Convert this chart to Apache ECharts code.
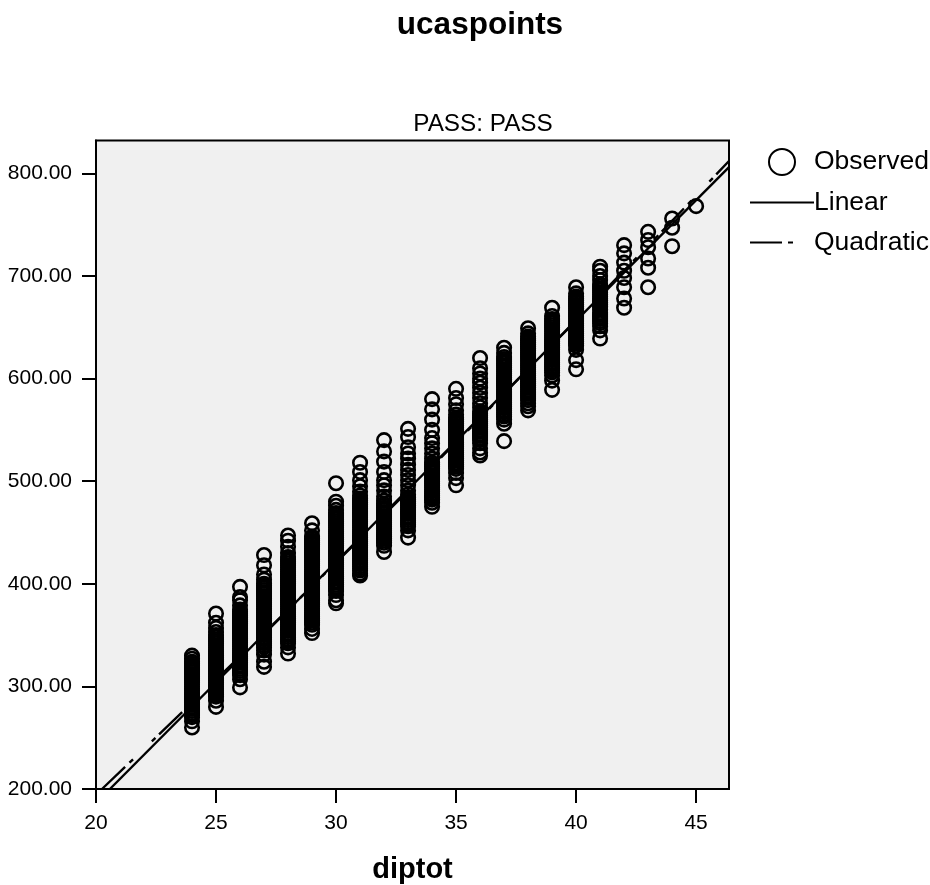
<!DOCTYPE html>
<html><head><meta charset="utf-8">
<style>html,body{margin:0;padding:0;background:#fff}#c{width:930px;height:885px}</style>
<script src="https://cdn.jsdelivr.net/npm/echarts@6/dist/echarts.min.js"></script>
</head><body><div id="c"></div>
<script>
const chartTitle = 'ucaspoints';
const panelTitle = 'PASS: PASS';
const xAxisName = 'diptot';
const xTicks = [20, 25, 30, 35, 40, 45];
const yTicks = [200, 300, 400, 500, 600, 700, 800];

const col24 = [260,266,270,272,274,276,278,280,282,284,286,288,290,292,294,296,298,300,302,304,306,308,310,312,314,316,318,320,322,324,327,330];
const col25 = [280,286,290,292,294,296,298,300,302,304,306,308,310,312,314,316,318,320,322,324,326,328,330,332,334,336,338,340,342,344,346,348,350,353,357,362,371];
const col26 = [299,307,311,313,315,317,319,321,323,325,327,329,331,333,335,337,339,341,343,345,347,349,351,353,355,357,359,361,363,365,367,369,371,373,375,379,384,387,397];
const col27 = [319,324,331,335,338,340,342,344,346,348,350,352,354,356,358,360,362,364,366,368,370,372,374,376,378,380,382,384,386,388,390,392,394,396,398,400,404,409,418,428];
const col28 = [332,338,342,344,346,348,350,352,354,356,358,360,362,364,366,368,370,372,374,376,378,380,382,384,386,388,390,392,394,396,398,400,402,404,406,408,410,412,414,416,418,420,422,424,426,430,436,442,447];
const col29 = [352,356,360,362,364,366,368,370,372,374,376,378,380,382,384,386,388,390,392,394,396,398,400,402,404,406,408,410,412,414,416,418,420,422,424,426,428,430,432,434,436,438,440,442,444,446,452,459];
const col30 = [381,384,389,393,395,397,399,401,403,405,407,409,411,413,415,417,419,421,423,425,427,429,431,433,435,437,439,441,443,445,447,449,451,453,455,457,459,461,463,465,467,469,472,476,480,498];
const col31 = [408,410,413,415,417,419,421,423,425,427,429,431,433,435,437,439,441,443,445,447,449,451,453,455,457,459,461,463,465,467,469,471,473,475,477,479,481,483,486,490,495,501,509,518];
const col32 = [431,437,440,442,444,446,448,450,452,454,456,458,460,462,464,466,468,470,472,474,476,478,481,485,491,496,501,509,519,529,540];
const col33 = [445,452,456,458,460,462,464,466,468,470,472,474,476,478,480,482,484,487,491,496,501,506,511,516,522,527,533,543,551];
const col34 = [475,479,482,484,486,488,490,492,494,496,498,500,502,504,506,508,510,512,514,516,518,522,527,532,537,542,550,560,570,580];
const col35 = [496,503,508,512,514,516,518,520,522,524,526,528,530,532,534,536,538,540,542,544,546,548,550,552,554,556,558,560,562,565,569,575,581,590];
const col36 = [525,528,532,537,540,542,544,546,548,550,552,554,556,558,560,562,564,566,568,572,576,581,586,591,596,600,605,610,620];
const col37 = [539,556,560,563,565,567,569,571,573,575,577,579,581,583,585,587,589,591,593,595,597,599,601,603,605,607,609,611,613,615,617,619,621,625,630];
const col38 = [569,573,576,579,581,583,585,587,589,591,593,595,597,599,601,603,605,607,609,611,613,615,617,619,621,623,625,627,629,631,633,635,637,639,641,644,649];
const col39 = [589,598,603,606,608,610,612,614,616,618,620,622,624,626,628,630,632,634,636,638,640,642,644,646,648,650,652,654,656,658,661,669];
const col40 = [609,618,628,632,634,636,638,640,642,644,646,648,650,652,654,656,658,660,662,664,666,668,670,672,674,676,678,680,683,689];
const col41 = [639,647,651,654,656,658,660,662,664,667,670,672,674,676,678,680,682,684,686,688,690,692,696,700,705,709];
const col42 = [669,678,689,698,705,713,722,730];
const col43 = [689,708,717,728,735,743];
const col44 = [729,747,756];
const col45 = [768];

const observedColumns = [
  [24,col24],[25,col25],[26,col26],[27,col27],[28,col28],[29,col29],[30,col30],[31,col31],
  [32,col32],[33,col33],[34,col34],[35,col35],[36,col36],[37,col37],[38,col38],[39,col39],
  [40,col40],[41,col41],[42,col42],[43,col43],[44,col44],[45,col45]
];
const linearX = [20.58, 46.37];
const linearY = [200, 806];
const quadraticX = [20.25, 24, 28, 32, 36, 40, 44, 46.37];
const quadraticY = [200, 284, 374.6, 467, 561.4, 657, 753.6, 812];

const font = '"Liberation Sans", Arial, sans-serif';
const observed = [];
observedColumns.forEach(([x, ys]) => ys.forEach(y => observed.push([x, y])));
const zip = (a, b) => a.map((v, i) => [v, b[i]]);

const chart = echarts.init(document.getElementById('c'), null, {renderer: 'canvas'});
chart.setOption({
  animation: false,
  backgroundColor: '#ffffff',
  title: [
    {text: chartTitle, left: 475, top: 4, textAlign: 'center',
     textStyle: {fontFamily: font, fontSize: 31.5, fontWeight: 'bold', color: '#000'}},
    {text: panelTitle, left: 478, top: 107, textAlign: 'center',
     textStyle: {fontFamily: font, fontSize: 24.3, fontWeight: 'normal', color: '#000'}}
  ],
  legend: {
    left: 749, top: 148, orient: 'vertical', itemWidth: 64, itemHeight: 26, itemGap: 13,
    padding: 0, selectedMode: false,
    textStyle: {fontFamily: font, fontSize: 26.5, color: '#000', padding: [0, 0, 0, -5]},
    data: [
      {name: 'Observed', icon: 'circle', itemStyle: {color: 'transparent', borderColor: '#000', borderWidth: 2}},
      {name: 'Linear', itemStyle: {opacity: 0}},
      {name: 'Quadratic', itemStyle: {opacity: 0}}
    ]
  },
  grid: {left: 96, top: 140.5, right: 201, bottom: 96, show: true, backgroundColor: '#f0f0f0',
         borderColor: '#000', borderWidth: 2, outerBoundsMode: 'none'},
  xAxis: {
    type: 'value', min: 20, max: 46.37, interval: 5,
    name: xAxisName, nameLocation: 'middle', nameGap: 66,
    nameTextStyle: {fontFamily: font, fontSize: 29, fontWeight: 'bold', color: '#000'},
    splitLine: {show: false},
    axisLine: {show: true, onZero: false, lineStyle: {color: '#000', width: 2}},
    axisTick: {show: true, length: 14, customValues: xTicks, lineStyle: {color: '#000', width: 2}},
    axisLabel: {customValues: xTicks, margin: 24, fontFamily: font, fontSize: 21, color: '#000'}
  },
  yAxis: {
    type: 'value', min: 200, max: 832, interval: 100,
    splitLine: {show: false},
    axisLine: {show: true, onZero: false, lineStyle: {color: '#000', width: 2}},
    axisTick: {show: true, length: 14, customValues: yTicks, lineStyle: {color: '#000', width: 2}},
    axisLabel: {customValues: yTicks, margin: 24, fontFamily: font, fontSize: 21, color: '#000',
                formatter: v => v.toFixed(2)}
  },
  series: [
    {name: 'Observed', type: 'scatter', z: 3, symbol: 'circle', symbolSize: 13.5, data: observed,
     itemStyle: {color: 'transparent', borderColor: '#000', borderWidth: 2.6, opacity: 1}},
    {name: 'Linear', type: 'line', z: 2, symbol: 'none', clip: true, data: zip(linearX, linearY),
     lineStyle: {color: '#000', width: 2.4}, itemStyle: {color: '#000'}},
    {name: 'Quadratic', type: 'line', z: 2, symbol: 'none', clip: true, data: zip(quadraticX, quadraticY),
     lineStyle: {color: '#000', width: 2.4, type: [32, 6, 5, 26, 5, 5]}, itemStyle: {color: '#000'}}
  ]
});
</script></body></html>
